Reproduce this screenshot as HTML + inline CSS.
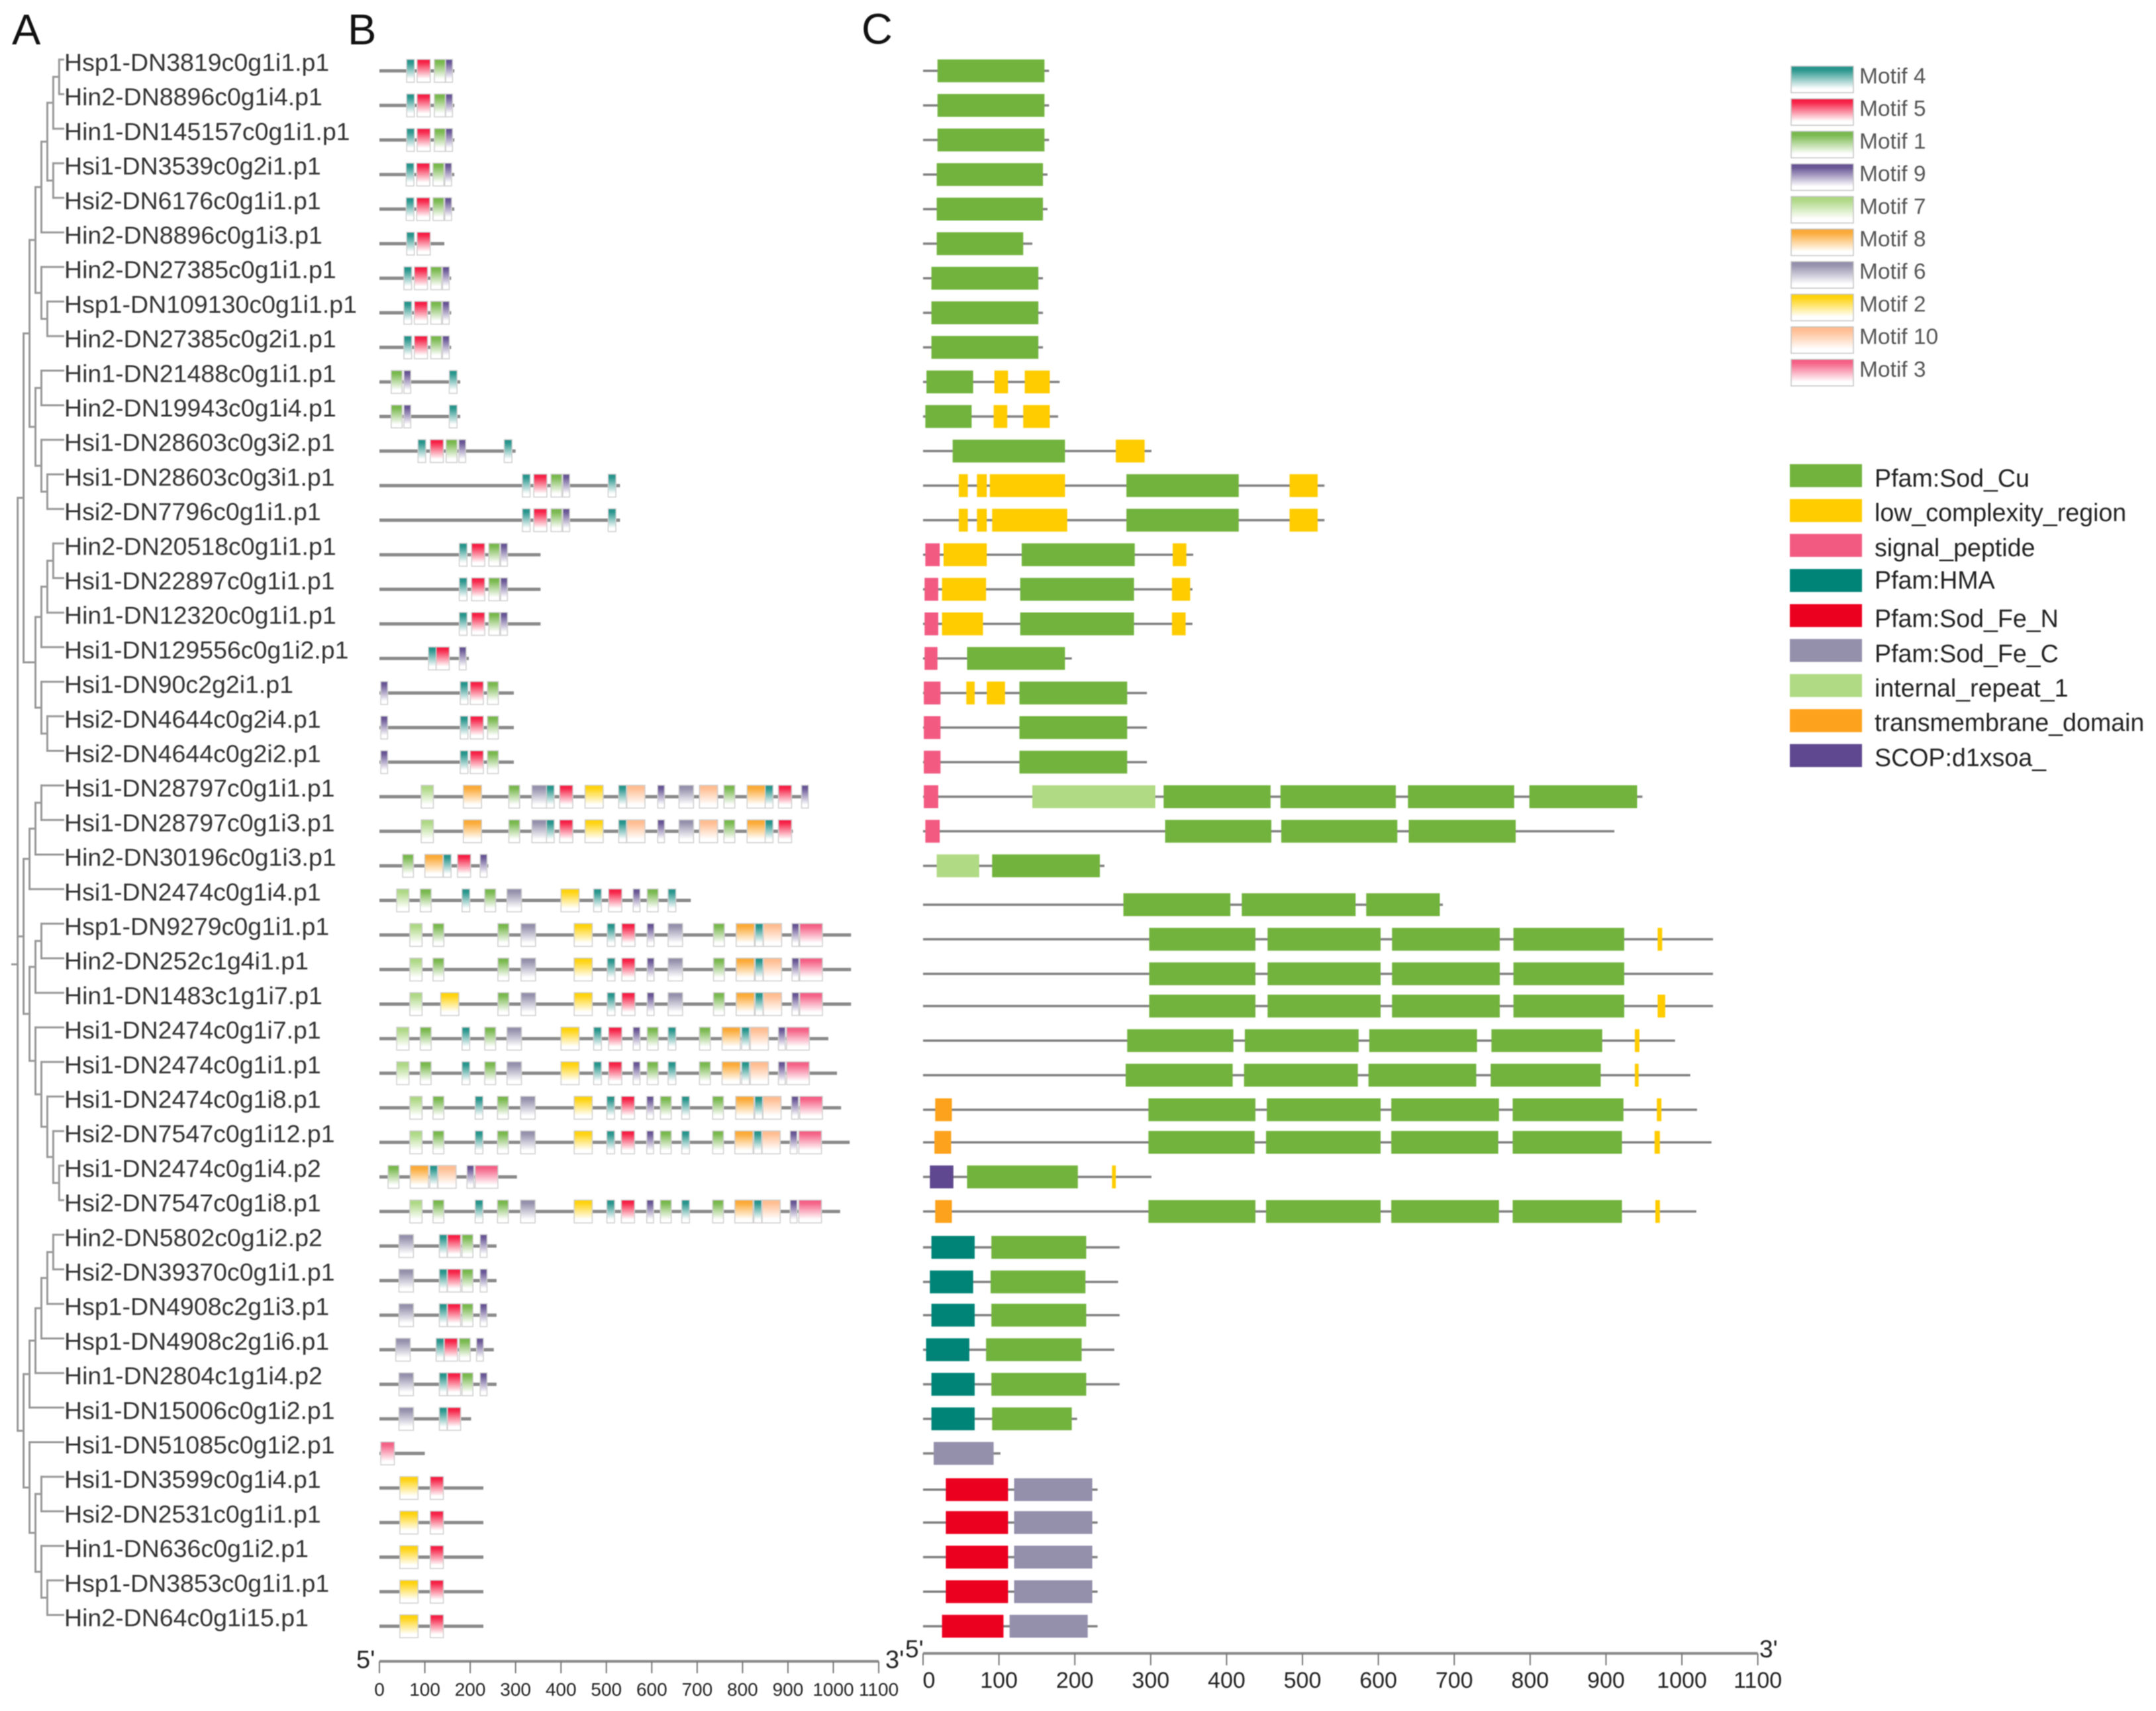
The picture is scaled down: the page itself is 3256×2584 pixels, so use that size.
<!DOCTYPE html>
<html lang="en">
<head>
<meta charset="utf-8">
<title>Protein motif and domain figure</title>
<style>
  html, body { margin: 0; padding: 0; background: #fff; }
  #figure { display: block; filter: blur(0.9px); font-family: "Liberation Sans", sans-serif; }
</style>
</head>
<body>
<svg id="figure" xmlns="http://www.w3.org/2000/svg" width="3256" height="2584" viewBox="0 0 3256 2584">
  <defs>
    <linearGradient id="g4" x1="0" y1="0" x2="0" y2="1"><stop offset="0" stop-color="#1f9188"/><stop offset=".15" stop-color="#2b978e"/><stop offset=".85" stop-color="#fff"/></linearGradient>
    <linearGradient id="g5" x1="0" y1="0" x2="0" y2="1"><stop offset="0" stop-color="#f5143c"/><stop offset=".15" stop-color="#f6284c"/><stop offset=".85" stop-color="#fff"/></linearGradient>
    <linearGradient id="g1" x1="0" y1="0" x2="0" y2="1"><stop offset="0" stop-color="#72b545"/><stop offset=".15" stop-color="#7cba52"/><stop offset=".85" stop-color="#fff"/></linearGradient>
    <linearGradient id="g9" x1="0" y1="0" x2="0" y2="1"><stop offset="0" stop-color="#5f4c8f"/><stop offset=".15" stop-color="#6c5a98"/><stop offset=".85" stop-color="#fff"/></linearGradient>
    <linearGradient id="g7" x1="0" y1="0" x2="0" y2="1"><stop offset="0" stop-color="#a9d67f"/><stop offset=".15" stop-color="#b0d988"/><stop offset=".85" stop-color="#fff"/></linearGradient>
    <linearGradient id="g8" x1="0" y1="0" x2="0" y2="1"><stop offset="0" stop-color="#fba62e"/><stop offset=".15" stop-color="#fbac3c"/><stop offset=".85" stop-color="#fff"/></linearGradient>
    <linearGradient id="g6" x1="0" y1="0" x2="0" y2="1"><stop offset="0" stop-color="#8f8aa8"/><stop offset=".15" stop-color="#9894af"/><stop offset=".85" stop-color="#fff"/></linearGradient>
    <linearGradient id="g2" x1="0" y1="0" x2="0" y2="1"><stop offset="0" stop-color="#ffd000"/><stop offset=".15" stop-color="#ffd416"/><stop offset=".85" stop-color="#fff"/></linearGradient>
    <linearGradient id="g10" x1="0" y1="0" x2="0" y2="1"><stop offset="0" stop-color="#ffb98a"/><stop offset=".15" stop-color="#ffbf95"/><stop offset=".85" stop-color="#fff"/></linearGradient>
    <linearGradient id="g3" x1="0" y1="0" x2="0" y2="1"><stop offset="0" stop-color="#f4587f"/><stop offset=".15" stop-color="#f5668a"/><stop offset=".85" stop-color="#fff"/></linearGradient>
  </defs>

  <g font-size="65" fill="#111">
    <text x="18" y="67">A</text>
    <text x="525" y="67">B</text>
    <text x="1301" y="66">C</text>
  </g>

  <g id="tree" fill="none" stroke="#999" stroke-width="3"></g>
  <g id="labels" font-size="37.5" fill="#333"></g>
  <g id="motifPanel"></g>
  <g id="domainPanel"></g>
  <g id="motifAxis"></g>
  <g id="domainAxis"></g>

  <g font-size="33.5" fill="#555" stroke-linejoin="miter">
    <g><rect x="2705" y="100" width="94" height="40" fill="url(#g4)" stroke="#c4c4c4" stroke-width="1.5"/><text x="2808" y="126">Motif 4</text></g>
    <g><rect x="2705" y="149.2" width="94" height="40" fill="url(#g5)" stroke="#c4c4c4" stroke-width="1.5"/><text x="2808" y="175.2">Motif 5</text></g>
    <g><rect x="2705" y="198.4" width="94" height="40" fill="url(#g1)" stroke="#c4c4c4" stroke-width="1.5"/><text x="2808" y="224.4">Motif 1</text></g>
    <g><rect x="2705" y="247.6" width="94" height="40" fill="url(#g9)" stroke="#c4c4c4" stroke-width="1.5"/><text x="2808" y="273.6">Motif 9</text></g>
    <g><rect x="2705" y="296.8" width="94" height="40" fill="url(#g7)" stroke="#c4c4c4" stroke-width="1.5"/><text x="2808" y="322.8">Motif 7</text></g>
    <g><rect x="2705" y="346" width="94" height="40" fill="url(#g8)" stroke="#c4c4c4" stroke-width="1.5"/><text x="2808" y="372">Motif 8</text></g>
    <g><rect x="2705" y="395.2" width="94" height="40" fill="url(#g6)" stroke="#c4c4c4" stroke-width="1.5"/><text x="2808" y="421.2">Motif 6</text></g>
    <g><rect x="2705" y="444.4" width="94" height="40" fill="url(#g2)" stroke="#c4c4c4" stroke-width="1.5"/><text x="2808" y="470.4">Motif 2</text></g>
    <g><rect x="2705" y="493.6" width="94" height="40" fill="url(#g10)" stroke="#c4c4c4" stroke-width="1.5"/><text x="2808" y="519.6">Motif 10</text></g>
    <g><rect x="2705" y="542.8" width="94" height="40" fill="url(#g3)" stroke="#c4c4c4" stroke-width="1.5"/><text x="2808" y="568.8">Motif 3</text></g>
  </g>

  <g font-size="37.6" fill="#222">
    <g><rect x="2703" y="701" width="109" height="34.7" fill="#72b33e"/><text x="2831" y="735">Pfam:Sod_Cu</text></g>
    <g><rect x="2703" y="753.7" width="109" height="34.7" fill="#ffcc00"/><text x="2831" y="787">low_complexity_region</text></g>
    <g><rect x="2703" y="806.3" width="109" height="34.7" fill="#f25a82"/><text x="2831" y="840">signal_peptide</text></g>
    <g><rect x="2703" y="859.3" width="109" height="34.7" fill="#008478"/><text x="2831" y="889">Pfam:HMA</text></g>
    <g><rect x="2703" y="912.3" width="109" height="34.7" fill="#ec0020"/><text x="2831" y="947">Pfam:Sod_Fe_N</text></g>
    <g><rect x="2703" y="965" width="109" height="34.7" fill="#9490ac"/><text x="2831" y="1000">Pfam:Sod_Fe_C</text></g>
    <g><rect x="2703" y="1018" width="109" height="34.7" fill="#b0da84"/><text x="2831" y="1052">internal_repeat_1</text></g>
    <g><rect x="2703" y="1071" width="109" height="34.7" fill="#fca21c"/><text x="2831" y="1104">transmembrane_domain</text></g>
    <g><rect x="2703" y="1123.7" width="109" height="34.7" fill="#5f4890"/><text x="2831" y="1157">SCOP:d1xsoa_</text></g>
  </g>
</svg>

<script>
const proteinNames = [
"Hsp1-DN3819c0g1i1.p1","Hin2-DN8896c0g1i4.p1","Hin1-DN145157c0g1i1.p1","Hsi1-DN3539c0g2i1.p1","Hsi2-DN6176c0g1i1.p1",
"Hin2-DN8896c0g1i3.p1","Hin2-DN27385c0g1i1.p1","Hsp1-DN109130c0g1i1.p1","Hin2-DN27385c0g2i1.p1","Hin1-DN21488c0g1i1.p1",
"Hin2-DN19943c0g1i4.p1","Hsi1-DN28603c0g3i2.p1","Hsi1-DN28603c0g3i1.p1","Hsi2-DN7796c0g1i1.p1","Hin2-DN20518c0g1i1.p1",
"Hsi1-DN22897c0g1i1.p1","Hin1-DN12320c0g1i1.p1","Hsi1-DN129556c0g1i2.p1","Hsi1-DN90c2g2i1.p1","Hsi2-DN4644c0g2i4.p1",
"Hsi2-DN4644c0g2i2.p1","Hsi1-DN28797c0g1i1.p1","Hsi1-DN28797c0g1i3.p1","Hin2-DN30196c0g1i3.p1","Hsi1-DN2474c0g1i4.p1",
"Hsp1-DN9279c0g1i1.p1","Hin2-DN252c1g4i1.p1","Hin1-DN1483c1g1i7.p1","Hsi1-DN2474c0g1i7.p1","Hsi1-DN2474c0g1i1.p1",
"Hsi1-DN2474c0g1i8.p1","Hsi2-DN7547c0g1i12.p1","Hsi1-DN2474c0g1i4.p2","Hsi2-DN7547c0g1i8.p1","Hin2-DN5802c0g1i2.p2",
"Hsi2-DN39370c0g1i1.p1","Hsp1-DN4908c2g1i3.p1","Hsp1-DN4908c2g1i6.p1","Hin1-DN2804c1g1i4.p2","Hsi1-DN15006c0g1i2.p1",
"Hsi1-DN51085c0g1i2.p1","Hsi1-DN3599c0g1i4.p1","Hsi2-DN2531c0g1i1.p1","Hin1-DN636c0g1i2.p1","Hsp1-DN3853c0g1i1.p1","Hin2-DN64c0g1i15.p1"];

// Cladogram topology: leaves are row indices; branch x comes from nesting depth.
const treeTopology = [
  [ [ [ [ [ [[0,1],2], [3,4] ], 5 ], [6,[7,8]] ], [ [9,10], [11,[12,13]] ] ],
    [ [ [[[14,15],16],17], [18,[19,20]] ] ] ],
  [ [ [[21,22],23], 24 ],
    [ [[25,26],27], [28,[29,[30,[31,[32,33]]]]] ] ],
  [ [ [ [ [[34,35],36], 37 ], 38 ], 39 ],
    [ 40, [ [41,42], [43,[44,45]] ] ] ]
];

const axisTicks = [0,100,200,300,400,500,600,700,800,900,1000,1100];

// Motif widths in amino acids, keyed by motif number.
const motifWidths = {1:24, 2:40, 3:50, 4:17, 5:29, 6:32, 7:27, 8:40, 9:15, 10:40};
const motifColorIds = {1:"g1",2:"g2",3:"g3",4:"g4",5:"g5",6:"g6",7:"g7",8:"g8",9:"g9",10:"g10"};

const motifLengths = [165,165,165,165,165,143,158,158,158,178,178,300,530,530,355,355,355,197,296,296,296,946,911,240,686,1039,1039,1039,989,1008,1017,1036,303,1015,258,258,258,252,258,202,100,229,229,229,229,229];

// Each hit: [motif number, start aa, optional width aa]
const motifHits = [
[[4,60],[5,83],[1,121],[9,146]],
[[4,60],[5,83],[1,121],[9,146]],
[[4,60],[5,83],[1,121],[9,146]],
[[4,59],[5,82],[1,118],[9,144]],
[[4,59],[5,82],[1,118],[9,144]],
[[4,60],[5,83]],
[[4,54],[5,77],[1,113],[9,139]],
[[4,54],[5,77],[1,113],[9,139]],
[[4,54],[5,77],[1,113],[9,139]],
[[1,26],[9,54],[4,154]],
[[1,26],[9,54],[4,154]],
[[4,85],[5,112],[1,147],[9,175],[4,275]],
[[4,315],[5,340],[1,378],[9,404],[4,504]],
[[4,315],[5,340],[1,378],[9,404],[4,504]],
[[4,176],[5,203],[1,241],[9,267]],
[[4,176],[5,203],[1,241],[9,267]],
[[4,176],[5,203],[1,241],[9,267]],
[[4,108],[5,125],[9,176]],
[[9,3],[4,178],[5,200],[1,238]],
[[9,3],[4,178],[5,200],[1,238]],
[[9,3],[4,178],[5,200],[1,238]],
[[7,92],[8,185],[1,285],[6,336],[4,368],[5,397],[2,453],[4,527],[10,545],[9,613],[6,660],[10,705],[1,759],[8,810],[4,850],[5,879],[9,930]],
[[7,92],[8,185],[1,285],[6,336],[4,368],[5,397],[2,453],[4,527],[10,545],[9,613],[6,660],[10,705],[1,759],[8,810],[4,850],[5,879]],
[[1,51],[8,100],[4,141],[5,172],[9,222]],
[[7,38],[1,90],[4,182],[1,232],[6,281],[2,400],[4,472],[5,505],[9,559],[1,590],[4,636]],
[[7,67],[1,118],[1,261],[6,312],[2,429],[4,502],[5,534],[9,590],[6,636],[1,736],[8,786],[4,828],[10,846],[9,909],[3,926]],
[[7,67],[1,118],[1,261],[6,312],[2,429],[4,502],[5,534],[9,590],[6,636],[1,736],[8,786],[4,828],[10,846],[9,909],[3,926]],
[[7,67],[2,135],[1,261],[6,312],[2,429],[4,502],[5,534],[9,590],[6,636],[1,736],[8,786],[4,828],[10,846],[9,909],[3,926]],
[[7,38],[1,90],[4,182],[1,232],[6,281],[2,400],[4,472],[5,505],[9,559],[1,590],[4,636],[1,705],[8,755],[4,798],[10,817],[9,879],[3,897]],
[[7,38],[1,90],[4,182],[1,232],[6,281],[2,400],[4,472],[5,505],[9,559],[1,590],[4,636],[1,705],[8,755],[4,798],[10,817],[9,879],[3,897]],
[[7,67],[1,118],[4,211],[1,260],[6,311],[2,429],[4,501],[5,533],[9,589],[1,619],[4,666],[1,734],[8,785],[4,827],[10,845],[9,908],[3,926]],
[[7,67],[1,118],[4,211],[1,260],[6,311],[2,429],[4,501],[5,533],[9,589],[1,619],[4,666],[1,734],[8,783],[4,825],[10,843],[9,905],[3,924]],
[[1,19],[8,68],[4,111],[10,129],[9,193],[3,211]],
[[7,67],[1,118],[4,211],[1,260],[6,311],[2,429],[4,501],[5,533],[9,589],[1,619],[4,666],[1,734],[8,783],[4,825],[10,843],[9,905],[3,924]],
[[6,43],[4,132],[5,150],[1,182],[9,222]],
[[6,43],[4,132],[5,150],[1,182],[9,222]],
[[6,43],[4,132],[5,150],[1,182],[9,222]],
[[6,36],[4,125],[5,143],[1,176],[9,214]],
[[6,43],[4,132],[5,150],[1,182],[9,222]],
[[6,43],[4,132],[5,150]],
[[3,3,30]],
[[2,45],[5,112]],
[[2,45],[5,112]],
[[2,45],[5,112]],
[[2,45],[5,112]],
[[2,45],[5,112]]
];

const domainColors = {Cu:"#72b33e", LC:"#ffcc00", SP:"#f25a82", HMA:"#008478", FeN:"#ec0020", FeC:"#9490ac", IR:"#b0da84", TM:"#fca21c", SCOP:"#5f4890"};

const domainLengths = [166,166,166,164,164,144,158,158,158,180,178,301,529,529,356,355,355,196,295,295,295,948,911,239,685,1041,1041,1041,991,1011,1020,1039,301,1019,259,257,259,252,259,203,102,230,230,230,230,230];

// Each domain: [type, start aa, end aa]
const domainHits = [
[["Cu",19,160]],
[["Cu",19,160]],
[["Cu",19,160]],
[["Cu",18,158]],
[["Cu",18,158]],
[["Cu",18,132]],
[["Cu",11,152]],
[["Cu",11,152]],
[["Cu",11,152]],
[["Cu",4.5,66],["LC",94,112],["LC",134,167]],
[["Cu",3,64],["LC",93,111],["LC",132,167]],
[["Cu",39,187],["LC",254,292]],
[["LC",47,59],["LC",71,84],["LC",88,187],["Cu",268,416],["LC",483,520]],
[["LC",47,59],["LC",71,84],["LC",91,190],["Cu",268,416],["LC",483,520]],
[["SP",3,22],["LC",27,84],["Cu",130,279],["LC",329,347]],
[["SP",2,20],["LC",25,83],["Cu",128,278],["LC",328,352]],
[["SP",2,20],["LC",25,79],["Cu",128,278],["LC",328,346]],
[["SP",2,19],["Cu",58,187]],
[["SP",1,23],["LC",57,68],["LC",84,108],["Cu",127,269]],
[["SP",1,23],["Cu",127,269]],
[["SP",1,23],["Cu",127,269]],
[["SP",1,20],["IR",144,306],["Cu",317,458],["Cu",471,623],["Cu",639,779],["Cu",799,941]],
[["SP",3,22],["Cu",319,459],["Cu",472,625],["Cu",640,781]],
[["IR",18,74],["Cu",91,233]],
[["Cu",264,405],["Cu",420,570],["Cu",584,681]],
[["Cu",298,438],["Cu",454,603],["Cu",618,760],["Cu",778,924],["LC",968,974]],
[["Cu",298,438],["Cu",454,603],["Cu",618,760],["Cu",778,924]],
[["Cu",298,438],["Cu",454,603],["Cu",618,760],["Cu",778,924],["LC",968,978]],
[["Cu",269,409],["Cu",424,574],["Cu",588,730],["Cu",749,895],["LC",938,944]],
[["Cu",267,408],["Cu",423,573],["Cu",587,729],["Cu",748,893],["LC",938,943]],
[["TM",16,38],["Cu",297,438],["Cu",453,603],["Cu",617,759],["Cu",777,923],["LC",967,973]],
[["TM",15,37],["Cu",297,437],["Cu",452,603],["Cu",617,758],["Cu",777,921],["LC",964,971]],
[["SCOP",9,40],["Cu",58,204],["LC",249,254]],
[["TM",16,38],["Cu",297,438],["Cu",452,603],["Cu",617,759],["Cu",777,921],["LC",965,971]],
[["HMA",11,68],["Cu",90,215]],
[["HMA",9,66],["Cu",89,214]],
[["HMA",11,68],["Cu",90,215]],
[["HMA",4,61],["Cu",83,209]],
[["HMA",11,68],["Cu",90,215]],
[["HMA",11,68],["Cu",91,196]],
[["FeC",14,93]],
[["FeN",30,112],["FeC",120,223]],
[["FeN",30,112],["FeC",120,223]],
[["FeN",30,112],["FeC",120,223]],
[["FeN",30,112],["FeC",120,223]],
[["FeN",25,106],["FeC",114,217]]
];

const NS = "http://www.w3.org/2000/svg";
function make(tag, attrs, parent) {
  const el = document.createElementNS(NS, tag);
  for (const k in attrs) el.setAttribute(k, attrs[k]);
  parent.appendChild(el);
  return el;
}

// Axis functions
const rowY = i => 107 + 52.2 * i;
const leafY = i => 90 + 52.2 * i;
const xB = v => 573 + 0.6855 * v;
const xC = v => 1394 + 1.146 * v;
const treeX = depth => 26.7 + 8.95 * depth;
const LEAF_END_X = 97;
const BOX_H = 34.5;
function domainRowNudge(i) {
  if (i >= 24 && i <= 26) return 6.5;
  if (i >= 27 && i <= 30) return 3;
  if (i === 34 || i === 35) return 2;
  if (i === 41) return 2.5;
  return 0;
}

// Tree
const treeRoot = document.getElementById("tree");
function drawNode(node, depth) {
  const ys = [];
  const x = treeX(depth);
  node.forEach(child => {
    const isLeaf = typeof child === "number";
    const y = isLeaf ? leafY(child) : drawNode(child, depth + 1);
    const endX = isLeaf ? LEAF_END_X : treeX(depth + 1);
    const h = make("line", {x1: x, y1: y, x2: endX, y2: y}, treeRoot);
    
    
    ys.push(y);
  });
  const top = Math.min(...ys), bottom = Math.max(...ys);
  const v = make("line", {x1: x, y1: top - 1.5, x2: x, y2: bottom + 1.5}, treeRoot);
  
  
  return (top + bottom) / 2;
}
const rootY = drawNode(treeTopology, 0);
const rootStub = make("line", {x1: 17, y1: rootY, x2: treeX(0), y2: rootY}, treeRoot);



// Labels
const labelGroup = document.getElementById("labels");
proteinNames.forEach((name, i) => {
  const t = make("text", {x: 97, y: rowY(i)}, labelGroup);
  t.textContent = name;
  
  
});

// Motif panel
const motifPanel = document.getElementById("motifPanel");
motifLengths.forEach((len, i) => {
  const y = rowY(i);
  const line = make("rect", {x: xB(0), y: y - 2.5, width: xB(len) - xB(0), height: 5, fill: "#8a8a8a"}, motifPanel);
  
  
  motifHits[i].forEach(hit => {
    const w = hit.length > 2 ? hit[2] : motifWidths[hit[0]];
    const box = make("rect", {x: xB(hit[1]), y: y - BOX_H / 2, width: xB(hit[1] + w) - xB(hit[1]), height: BOX_H,
      fill: "url(#" + motifColorIds[hit[0]] + ")", stroke: "#cfcfcf", "stroke-width": 1.5}, motifPanel);
    
    
  });
});

// Domain panel
const domainPanel = document.getElementById("domainPanel");
domainLengths.forEach((len, i) => {
  const y = rowY(i) + domainRowNudge(i);
  const line = make("rect", {x: xC(0), y: y - 1.75, width: xC(len) - xC(0), height: 3.5, fill: "#808080"}, domainPanel);
  
  
  domainHits[i].forEach(hit => {
    const box = make("rect", {x: xC(hit[1]), y: y - BOX_H / 2, width: xC(hit[2]) - xC(hit[1]), height: BOX_H, fill: domainColors[hit[0]]}, domainPanel);
    
    
  });
});

// Axes
function drawAxis(group, scale, axisY, lineW, labelSize, labelBase, endSize, endBase, left5, right3) {
  const axisLine = make("rect", {x: scale(axisTicks[0]), y: axisY - lineW / 2, width: scale(axisTicks[axisTicks.length - 1]) - scale(axisTicks[0]), height: lineW, fill: "#8a8a8a"}, group);
  
  
  axisTicks.forEach((t, idx) => {
    const tick = make("line", {x1: scale(t), y1: axisY, x2: scale(t), y2: axisY + 18, stroke: "#777", "stroke-width": 2}, group);
    
    
    const cx = scale(t) + (idx === 0 && labelSize > 30 ? 9 : 0);
    const label = make("text", {x: cx, y: labelBase, "text-anchor": "middle", "font-size": labelSize, fill: "#222"}, group);
    label.textContent = String(t);
    
    
  });
  const five = make("text", {x: left5, y: endBase, "font-size": endSize, fill: "#222"}, group);
  five.textContent = "5'";
  
  
  const three = make("text", {x: right3, y: endBase, "font-size": endSize, fill: "#222"}, group);
  three.textContent = "3'";
  
  
}
drawAxis(document.getElementById("motifAxis"), xB, 2509, 4, 28, 2561, 38, 2519, 538, 1337);
drawAxis(document.getElementById("domainAxis"), xC, 2497, 4, 34, 2549, 37, 2503, 1367, 2657);
</script>
</body>
</html>
